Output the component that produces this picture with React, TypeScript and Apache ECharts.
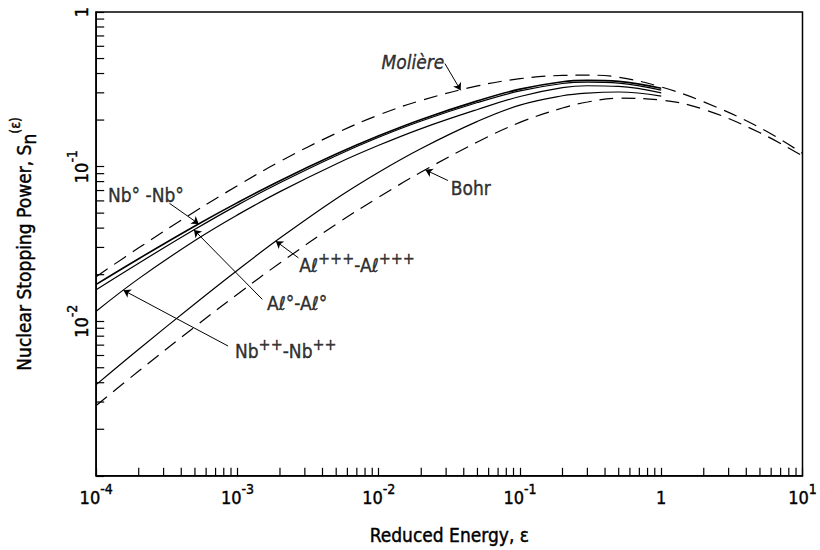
import React, { useEffect, useRef } from 'react';
import * as echarts from 'echarts';

// Reduced energy grid (epsilon)
const energy = [1e-4, 2e-4, 5e-4, 1e-3, 2e-3, 5e-3, 1e-2, 2e-2, 5e-2, 0.1, 0.2, 0.3, 0.5, 1, 2, 5, 10];
const energyCalc = [1e-4, 2e-4, 5e-4, 1e-3, 2e-3, 5e-3, 1e-2, 2e-2, 5e-2, 0.1, 0.2, 0.3, 0.5, 1];

// Nuclear stopping power S_n(epsilon)
const moliere = [0.0194, 0.02982, 0.05122, 0.07522, 0.1079, 0.1644, 0.2156, 0.2681, 0.3324, 0.3703, 0.3887, 0.3903, 0.3785, 0.3272, 0.2622, 0.1784, 0.1219];
const bohr = [0.00285, 0.004761, 0.009211, 0.01496, 0.0238, 0.0424, 0.06339, 0.09215, 0.1443, 0.1931, 0.2393, 0.2617, 0.2769, 0.2693, 0.2345, 0.1655, 0.1171];
const nbNeutral = [0.0173, 0.02537, 0.04128, 0.05848, 0.08111, 0.1205, 0.1581, 0.2018, 0.2661, 0.317, 0.3542, 0.3614, 0.3559, 0.3208];
const alNeutral = [0.016, 0.02374, 0.0393, 0.05636, 0.0786, 0.1176, 0.1547, 0.1972, 0.2596, 0.3088, 0.3449, 0.352, 0.3466, 0.3124];
const nbIon2 = [0.0116, 0.01885, 0.03327, 0.04871, 0.06886, 0.104, 0.1373, 0.1762, 0.2341, 0.2842, 0.3242, 0.3335, 0.3302, 0.2997];
const alIon3 = [0.00389, 0.00659, 0.01298, 0.02138, 0.03449, 0.06199, 0.09204, 0.1311, 0.1962, 0.25, 0.2872, 0.2991, 0.3037, 0.2853];

// Axis ranges (decades)
const X_MIN = 1e-4;
const X_MAX = 10;
const Y_MIN = 1e-3;
const Y_MAX = 1;
const xDecades = [-4, -3, -2, -1, 0];
const yDecades = [-3, -2, -1];
const minorMultipliers = [2, 3, 4, 5, 6, 7, 8, 9];

// Annotation labels: text, label anchor (left edge), arrow start, arrow tip energy, target curve
const annotations = [
  { text: '{i|Molière}', at: [0.01046, 0.478], from: [0.0294, 0.464], tipE: 0.038, curve: 'moliere' },
  { text: 'Bohr', at: [0.0324, 0.0723], from: [0.0309, 0.0813], tipE: 0.0214, curve: 'bohr' },
  { text: 'Nb° -Nb°', at: [1.21e-4, 0.0652], from: [3.3e-4, 0.0579], tipE: 5.32e-4, curve: 'nb0' },
  { text: '{m|Aℓ}{s|+++}{m|-Aℓ}{s|+++}', at: [2.74e-3, 0.0239], from: [2.7e-3, 0.0257], tipE: 1.87e-3, curve: 'al3' },
  { text: 'Aℓ°-Aℓ°', at: [1.62e-3, 0.01304], from: [1.5e-3, 0.01384], tipE: 4.92e-4, curve: 'al0' },
  { text: '{m|Nb}{s|++}{m|-Nb}{s|++}', at: [9.6e-4, 0.00661], from: [8.58e-4, 0.00691], tipE: 1.56e-4, curve: 'nb2' },
];

const FONT = "'Liberation Sans Narrow', 'DejaVu Sans Condensed', 'Liberation Sans', Arial, sans-serif";
const WEIGHT = 'normal';
const INK = { color: '#000', textBorderColor: '#000', textBorderWidth: 0.4 };

function logInterp(xs: number[], ys: number[], x: number): number {
  const lx = Math.log10(x);
  for (let i = 0; i < xs.length - 1; i++) {
    const a = Math.log10(xs[i]);
    const b = Math.log10(xs[i + 1]);
    if (lx >= a && lx <= b) {
      const t = (lx - a) / (b - a);
      return Math.pow(10, Math.log10(ys[i]) + t * (Math.log10(ys[i + 1]) - Math.log10(ys[i])));
    }
  }
  return ys[ys.length - 1];
}

function pair(xs: number[], ys: number[]) {
  return xs.map((x, i) => [x, ys[i]]);
}

export default function App() {
  const ref = useRef<HTMLDivElement>(null);

  useEffect(() => {
    if (!ref.current) return;
    const chart = echarts.init(ref.current, null, { renderer: 'svg' });

    const curves: Record<string, [number[], number[]]> = {
      moliere: [energy, moliere],
      bohr: [energy, bohr],
      nb0: [energyCalc, nbNeutral],
      al0: [energyCalc, alNeutral],
      nb2: [energyCalc, nbIon2],
      al3: [energyCalc, alIon3],
    };

    const xMinor: number[][] = [];
    xDecades.forEach((d) => minorMultipliers.forEach((m) => xMinor.push([m * Math.pow(10, d), Y_MIN])));
    const yMinor: number[][] = [];
    yDecades.forEach((d) => minorMultipliers.forEach((m) => yMinor.push([X_MIN, m * Math.pow(10, d)])));

    const supRich = {
      b: { fontSize: 18, fontFamily: FONT, fontWeight: WEIGHT, ...INK, padding: [7, 0, 0, 0] },
      s: { fontSize: 14, fontFamily: FONT, fontWeight: WEIGHT, ...INK, verticalAlign: 'top' },
    };

    const fmt = (v: number) => {
      const e = Math.round(Math.log10(v));
      if (e === 0) return '{b|1}';
      return '{b|10}{s|' + e + '}';
    };

    const solid = (name: string, xs: number[], ys: number[], w: number) => ({
      type: 'line',
      name,
      data: pair(xs, ys),
      showSymbol: false,
      symbol: 'none',
      smooth: 0.4,
      lineStyle: { color: '#000', width: w },
      silent: true,
      z: 3,
    });
    const dashed = (name: string, xs: number[], ys: number[]) => ({
      type: 'line',
      name,
      data: pair(xs, ys),
      showSymbol: false,
      symbol: 'none',
      smooth: 0.4,
      lineStyle: { color: '#000', width: 1.2, type: [14, 8] },
      silent: true,
      z: 3,
    });

    const labelRich = {
      m: { fontSize: 19, fontFamily: FONT, fontWeight: WEIGHT, ...INK, padding: [5, 0, 0, 0] },
      s: { fontSize: 16, fontFamily: FONT, fontWeight: WEIGHT, ...INK, verticalAlign: 'top' },
      i: { fontSize: 19, fontFamily: FONT, fontWeight: WEIGHT, ...INK, fontStyle: 'italic' },
    };

    const option: any = {
      animation: false,
      backgroundColor: '#fff',
      grid: {
        left: 90,
        right: 7,
        top: 12,
        bottom: 70,
        show: true,
        borderColor: '#000',
        borderWidth: 1.5,
        backgroundColor: 'transparent',
      },
      xAxis: {
        type: 'log',
        logBase: 10,
        min: X_MIN,
        max: X_MAX,
        name: 'Reduced Energy, ε',
        nameLocation: 'middle',
        nameGap: 50,
        nameTextStyle: { fontSize: 19, fontFamily: FONT, fontWeight: WEIGHT, ...INK },
        axisLine: { lineStyle: { color: '#000', width: 1.5 } },
        axisTick: { inside: true, length: 8, lineStyle: { color: '#000', width: 1.2 } },
        splitLine: { show: false },
        minorTick: { show: false },
        axisLabel: {
          margin: 6,
          showMinLabel: true,
          showMaxLabel: true,
          formatter: fmt,
          rich: supRich,
        },
      },
      yAxis: {
        type: 'log',
        logBase: 10,
        min: Y_MIN,
        max: Y_MAX,
        name: '{t|Nuclear Stopping Power, S}{sub|n}{sup|(ε)}',
        nameLocation: 'middle',
        nameGap: 58,
        nameTextStyle: {
          rich: {
            t: { fontSize: 19, fontFamily: FONT, fontWeight: WEIGHT, ...INK, padding: [6, 0, 5, 0] },
            sub: { fontSize: 19, fontFamily: FONT, fontWeight: WEIGHT, ...INK, verticalAlign: 'bottom' },
            sup: { fontSize: 14, fontFamily: FONT, fontWeight: WEIGHT, ...INK, verticalAlign: 'top' },
          },
        },
        axisLine: { lineStyle: { color: '#000', width: 1.5 } },
        axisTick: { inside: true, length: 8, lineStyle: { color: '#000', width: 1.2 } },
        splitLine: { show: false },
        axisLabel: {
          rotate: 90,
          margin: 6,
          showMinLabel: true,
          showMaxLabel: true,
          formatter: (v: number) => (Math.round(Math.log10(v)) === -3 ? '' : fmt(v)),
          rich: supRich,
        },
      },
      series: [
        dashed('Molière', energy, moliere),
        dashed('Bohr', energy, bohr),
        solid('Nb°-Nb°', energyCalc, nbNeutral, 1.6),
        solid('Aℓ°-Aℓ°', energyCalc, alNeutral, 1.2),
        solid('Nb++-Nb++', energyCalc, nbIon2, 1.2),
        solid('Aℓ+++-Aℓ+++', energyCalc, alIon3, 1.2),
        {
          type: 'custom',
          coordinateSystem: 'cartesian2d',
          silent: true,
          clip: false,
          data: xMinor,
          renderItem: (_p: any, api: any) => {
            const pt = api.coord([api.value(0), api.value(1)]);
            return {
              type: 'line',
              shape: { x1: pt[0], y1: pt[1], x2: pt[0], y2: pt[1] - 8 },
              style: { stroke: '#000', lineWidth: 1.2 },
            };
          },
          z: 5,
        },
        {
          type: 'custom',
          coordinateSystem: 'cartesian2d',
          silent: true,
          clip: false,
          data: yMinor,
          renderItem: (_p: any, api: any) => {
            const pt = api.coord([api.value(0), api.value(1)]);
            return {
              type: 'line',
              shape: { x1: pt[0], y1: pt[1], x2: pt[0] + 8, y2: pt[1] },
              style: { stroke: '#000', lineWidth: 1.2 },
            };
          },
          z: 5,
        },
        {
          type: 'scatter',
          silent: true,
          symbolSize: 0,
          data: annotations.map((a) => ({
            value: a.at,
            label: {
              show: true,
              position: 'right',
              distance: 0,
              formatter: a.text,
              fontSize: 19,
              fontFamily: FONT,
              fontWeight: WEIGHT,
              ...INK,
              rich: labelRich,
            },
          })),
          markLine: {
            silent: true,
            symbol: ['none', 'arrow'],
            symbolSize: 7,
            label: { show: false },
            lineStyle: { color: '#000', width: 1, type: 'solid' },
            emphasis: { disabled: true },
            data: annotations.map((a) => {
              const [xs, ys] = curves[a.curve];
              return [{ coord: a.from }, { coord: [a.tipE, logInterp(xs, ys, a.tipE)] }];
            }),
          },
          z: 6,
        },
      ],
    };

    chart.setOption(option);
    return () => chart.dispose();
  }, []);

  return <div ref={ref} style={{ position: 'absolute', left: 0, top: 0, width: 820, height: 550 }} />;
}
